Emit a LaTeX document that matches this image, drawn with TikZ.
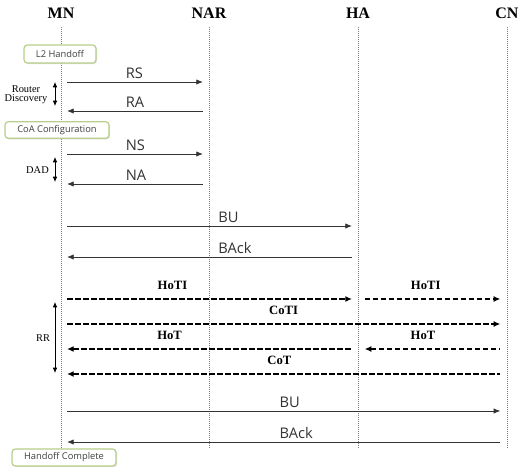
\documentclass[tikz,border=0pt]{standalone}
\usepackage{fontspec}
\setmainfont{Liberation Serif}
\setsansfont{Open Sans}
\usepackage{tikz}
\usetikzlibrary{arrows.meta, positioning, shadows}
\definecolor{boxgreen}{HTML}{B7CF8A}

\begin{document}
\begin{tikzpicture}[
    x=0.75pt, y=-0.75pt,
    entity/.style={font=\bfseries\fontsize{12}{14}\selectfont, inner sep=0pt},
    life/.style={densely dotted, gray, line width=0.5pt},
    phase/.style={rectangle, draw=boxgreen, line width=0.9pt, fill=white, rounded corners=2.5pt, minimum width=#1, minimum height=12.5pt, inner sep=1pt, font=\sffamily\fontsize{7}{8}\selectfont, text=black!75, drop shadow={opacity=0.25, shadow xshift=0.8pt, shadow yshift=-0.8pt}},
    note/.style={font=\fontsize{7.8}{7}\selectfont, align=center, inner sep=0pt},
    spanarrow/.style={{Latex[length=4pt,width=3.5pt]}-{Latex[length=4pt,width=3.5pt]}, line width=0.6pt},
    sig/.style={-{Latex[length=5pt,width=4pt]}, line width=0.6pt, black!80},
    sigback/.style={{Latex[length=5pt,width=4pt]}-, line width=0.6pt, black!80},
    dsig/.style={-{Latex[length=5pt,width=4.5pt]}, line width=1.1pt, dash pattern=on 4.2pt off 1.8pt},
    dsigback/.style={{Latex[length=5pt,width=4.5pt]}-, line width=1.1pt, dash pattern=on 4.2pt off 1.8pt},
    lbl/.style={anchor=south west, inner sep=0pt, yshift=2.5pt, font=\sffamily\fontsize{11}{13}\selectfont},
    dlbl/.style={anchor=south, inner sep=0pt, yshift=6.5pt, font=\bfseries\fontsize{9.5}{11}\selectfont},
]
    \useasboundingbox (0,0) rectangle (526,472);

    % Entities
    \node[entity] (mn) at (61,13) {MN};
    \node[entity] (nar) at (209,13) {NAR};
    \node[entity] (ha) at (358,13) {HA};
    \node[entity] (cn) at (507,13) {CN};

    % Lifelines
    \coordinate (bottom) at (0,447);
    \foreach \n in {mn,nar,ha,cn}
        \draw[life] ([yshift=-6pt]\n.south) -- (\n |- bottom);

    % Phases
    \node[phase=54pt, minimum height=13.5pt] (l2) at (60,54) {L2 Handoff};
    \node[phase=78pt] (coa) at (57,130) {CoA Configuration};
    \node[phase=78pt, minimum height=12.8pt] (done) at (64,457.5) {Handoff Complete};

    % Router discovery
    \node[note] (rd) at (26,95) {Router\\Discovery};
    \draw[spanarrow] ([xshift=-4.5pt]mn |- 0,82) -- ([xshift=-4.5pt]mn |- 0,106);
    \draw[sig] ([xshift=4.5pt]mn |- 0,82) -- node[lbl, pos=.43] {RS} ([xshift=-4.5pt]nar |- 0,82);
    \draw[sigback] ([xshift=4.5pt]mn |- 0,111) -- node[lbl, pos=.43] {RA} ([xshift=-4.5pt]nar |- 0,111);

    % DAD
    \node[note] (dad) at (37.5,170) {DAD};
    \draw[spanarrow] ([xshift=-4.5pt]mn |- 0,157) -- ([xshift=-4.5pt]mn |- 0,182);
    \draw[sig] ([xshift=4.5pt]mn |- 0,154) -- node[lbl, pos=.43] {NS} ([xshift=-4.5pt]nar |- 0,154);
    \draw[sigback] ([xshift=4.5pt]mn |- 0,184) -- node[lbl, pos=.43] {NA} ([xshift=-4.5pt]nar |- 0,184);

    % Home registration
    \draw[sig] ([xshift=4.5pt]mn |- 0,226) -- node[lbl, pos=.53] {BU} ([xshift=-4.5pt]ha |- 0,226);
    \draw[sigback] ([xshift=4.5pt]mn |- 0,257) -- node[lbl, pos=.53] {BAck} ([xshift=-4.5pt]ha |- 0,257);

    % Return routability
    \node[note] (rr) at (43,338) {RR};
    \draw[spanarrow] ([xshift=-4.5pt]mn |- 0,302) -- ([xshift=-4.5pt]mn |- 0,373);
    \draw[dsig] ([xshift=4.5pt]mn |- 0,299) -- node[dlbl, pos=.37] {HoTI} ([xshift=-4.5pt]ha |- 0,299);
    \draw[dsig] ([xshift=5pt]ha |- 0,299) -- node[dlbl, pos=.45] {HoTI} ([xshift=-5pt]cn |- 0,299);
    \draw[dsig] ([xshift=4.5pt]mn |- 0,324) -- node[dlbl] {CoTI} ([xshift=-5pt]cn |- 0,324);
    \draw[dsigback] ([xshift=4.5pt]mn |- 0,349) -- node[dlbl, pos=.36] {HoT} ([xshift=-4.5pt]ha |- 0,349);
    \draw[dsigback] ([xshift=5pt]ha |- 0,349) -- node[dlbl, pos=.43] {HoT} ([xshift=-5pt]cn |- 0,349);
    \draw[dsigback] ([xshift=4.5pt]mn |- 0,374) -- node[dlbl, pos=.49] {CoT} ([xshift=-5pt]cn |- 0,374);

    % Correspondent registration
    \draw[sig] ([xshift=4.5pt]mn |- 0,411) -- node[lbl, pos=.49] {BU} ([xshift=-5pt]cn |- 0,411);
    \draw[sigback] ([xshift=4.5pt]mn |- 0,442) -- node[lbl, pos=.49] {BAck} ([xshift=-5pt]cn |- 0,442);

\end{tikzpicture}
\end{document}
